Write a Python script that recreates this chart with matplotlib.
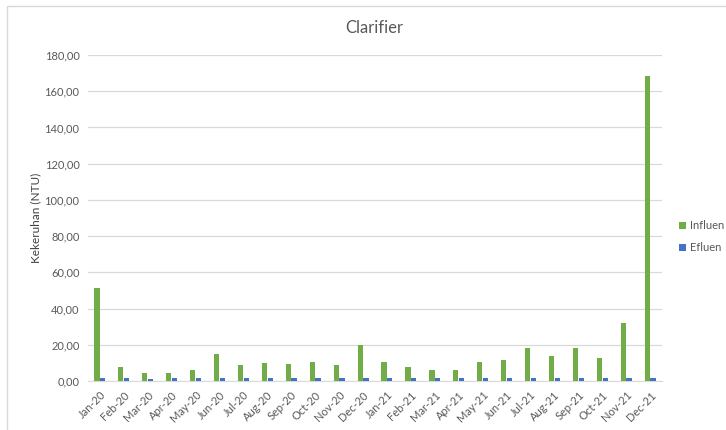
import matplotlib.pyplot as plt
import numpy as np
from matplotlib.patches import Rectangle

months = ['Jan-20', 'Feb-20', 'Mar-20', 'Apr-20', 'May-20', 'Jun-20',
          'Jul-20', 'Aug-20', 'Sep-20', 'Oct-20', 'Nov-20', 'Dec-20',
          'Jan-21', 'Feb-21', 'Mar-21', 'Apr-21', 'May-21', 'Jun-21',
          'Jul-21', 'Aug-21', 'Sep-21', 'Oct-21', 'Nov-21', 'Dec-21']
influen = [51.2, 7.5, 4.6, 4.2, 6.1, 14.7, 8.8, 9.9, 9.2, 10.3, 8.7, 19.9,
           10.3, 7.9, 6.3, 6.3, 10.7, 11.6, 18.4, 13.6, 18.0, 12.7, 31.8, 168.5]
efluen = [1.5, 1.5, 1.1, 1.4, 1.5, 1.5, 1.5, 1.5, 1.5, 1.5, 1.5, 1.5,
          1.5, 1.5, 1.5, 1.5, 1.5, 1.5, 1.5, 1.5, 1.5, 1.5, 1.5, 1.5]

plt.rcParams['font.family'] = ['Lato', 'DejaVu Sans']
grey = '#595959'

fig = plt.figure(figsize=(7.26, 4.3), dpi=100)
ax = fig.add_axes([0.121, 0.114, 0.791, 0.758])

x = np.arange(len(months))
w = 0.22
ax.bar(x - 0.12, influen, w, color='#70ad47', label='Influen', zorder=3)
ax.bar(x + 0.12, efluen, w, color='#4472c4', label='Efluen', zorder=3)

ax.set_xlim(-0.5, len(months) - 0.5)
ax.set_ylim(0, 180)
ax.set_yticks(np.arange(0, 181, 20))
ax.set_yticklabels([f'{v:.2f}'.replace('.', ',') for v in range(0, 181, 20)],
                   fontsize=8, color=grey)
ax.set_xticks(x)
ax.set_xticklabels(months, rotation=45, ha='right', rotation_mode='anchor',
                   fontsize=8, color=grey)
ax.tick_params(length=0, pad=6)
ax.grid(axis='y', color='#d9d9d9', linewidth=0.9, zorder=0)
for side in ['top', 'right', 'left']:
    ax.spines[side].set_visible(False)
ax.spines['bottom'].set_color('#d9d9d9')

ax.set_ylabel('Kekeruhan (NTU)', fontsize=8.5, color='#404040', labelpad=2)
fig.text(0.516, 0.935, 'Clarifier', ha='center', va='center',
         fontsize=12, color=grey)

ax.legend(loc='center left', bbox_to_anchor=(1.012, 0.443), frameon=False,
          fontsize=8, labelcolor=grey, handlelength=0.6, handleheight=0.6,
          handletextpad=0.4, labelspacing=1.0)

# outer chart border
fig.patches.append(Rectangle((0.009, -0.01), 1.0, 0.995, transform=fig.transFigure,
                             fill=False, edgecolor='#d9d9d9', linewidth=1))

fig.savefig('out.png', dpi=100)
